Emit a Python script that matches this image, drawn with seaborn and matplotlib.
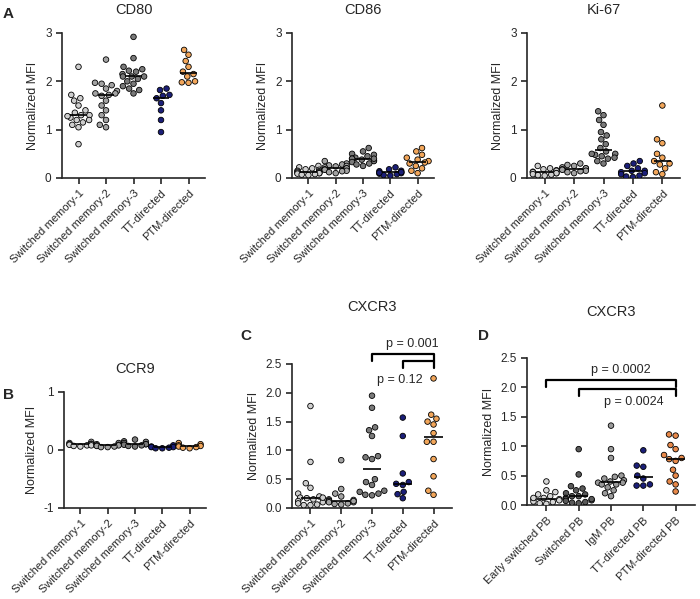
import matplotlib
matplotlib.use("Agg")
import matplotlib.pyplot as plt
import seaborn as sns
import numpy as np
import pandas as pd

sns.set_style("ticks")
plt.rcParams['font.family'] = ['Liberation Sans', 'DejaVu Sans']

cats_mem = ["Switched memory-1", "Switched memory-2", "Switched memory-3", "TT-directed", "PTM-directed"]
cats_pb = ["Early switched PB", "Switched PB", "IgM PB", "TT-directed PB", "PTM-directed PB"]
colors_mem = ["#cfcfcf", "#a3a3a3", "#7a7a7a", "#1b1f78", "#f2a65a"]
colors_pb = ["#d6d6d6", "#5a5a5a", "#9a9a9a", "#1b1f78", "#e8894a"]

cd80 = [
    [2.3,1.72,1.65,1.6,1.5,1.4,1.35,1.3,1.3,1.25,1.2,1.2,1.15,1.1,1.05,0.7,1.28],
    [2.45,1.97,1.95,1.92,1.85,1.8,1.75,1.72,1.7,1.6,1.5,1.4,1.3,1.2,1.1,1.05,1.75],
    [2.92,2.48,2.3,2.25,2.22,2.2,2.15,2.1,2.1,2.05,2.0,1.95,1.9,1.85,1.82,1.75,2.1],
    [1.85,1.82,1.72,1.7,1.65,1.55,1.4,1.2,0.95],
    [2.65,2.55,2.42,2.3,2.2,2.15,2.1,2.0,1.98,1.97],
]
cd86 = [
    [0.25,0.22,0.2,0.18,0.17,0.15,0.14,0.13,0.12,0.11,0.1,0.1,0.09,0.08,0.07,0.06],
    [0.35,0.3,0.28,0.26,0.25,0.24,0.22,0.2,0.2,0.18,0.17,0.15,0.14,0.12,0.1],
    [0.62,0.55,0.5,0.48,0.45,0.42,0.4,0.4,0.38,0.36,0.35,0.33,0.3,0.28,0.25,0.4],
    [0.22,0.18,0.15,0.14,0.12,0.1,0.09,0.08,0.06,0.05,0.12,0.11],
    [0.62,0.55,0.48,0.42,0.38,0.35,0.32,0.3,0.25,0.2,0.15,0.1],
]
ki67 = [
    [0.25,0.2,0.18,0.16,0.15,0.13,0.12,0.1,0.1,0.08,0.07,0.06,0.05],
    [0.3,0.27,0.25,0.22,0.2,0.2,0.18,0.17,0.15,0.14,0.12,0.1],
    [1.38,1.3,1.2,1.1,0.95,0.88,0.8,0.7,0.62,0.55,0.5,0.48,0.45,0.42,0.4,0.35,0.3,0.5],
    [0.35,0.3,0.25,0.2,0.15,0.12,0.1,0.08,0.05,0.03,0.02,0.15],
    [1.5,0.8,0.72,0.5,0.42,0.35,0.3,0.28,0.2,0.12,0.08],
]
ccr9 = [
    [0.14,0.12,0.11,0.1,0.1,0.09,0.08,0.08,0.07,0.06],
    [0.12,0.1,0.09,0.08,0.08,0.07,0.06,0.05,0.05],
    [0.18,0.15,0.14,0.12,0.1,0.1,0.09,0.08,0.07,0.06],
    [0.08,0.06,0.05,0.05,0.04,0.03,0.03],
    [0.12,0.1,0.08,0.07,0.06,0.05,0.04,0.03],
]
cxcr3_mem = [
    [1.77,0.8,0.43,0.35,0.25,0.2,0.18,0.17,0.15,0.12,0.1,0.08,0.06,0.05,0.05,0.18],
    [0.83,0.33,0.25,0.2,0.15,0.14,0.13,0.12,0.1,0.1,0.08,0.07,0.06,0.12],
    [1.95,1.74,1.4,1.35,1.25,0.9,0.88,0.85,0.5,0.45,0.4,0.3,0.28,0.25,0.23,0.22],
    [1.57,1.25,0.6,0.45,0.42,0.4,0.28,0.24,0.17],
    [2.25,1.62,1.55,1.5,1.45,1.3,1.15,1.15,0.85,0.55,0.3,0.23],
]
cxcr3_pb = [
    [0.4,0.25,0.22,0.18,0.15,0.12,0.1,0.1,0.08,0.06,0.05,0.03,0.02,0.12],
    [0.95,0.52,0.32,0.28,0.25,0.2,0.18,0.15,0.12,0.1,0.08,0.07,0.05,0.04,0.03,0.15,0.1],
    [1.35,0.95,0.8,0.5,0.48,0.45,0.42,0.4,0.38,0.35,0.35,0.3,0.25,0.2,0.15,0.38],
    [0.93,0.67,0.65,0.5,0.45,0.35,0.33,0.33],
    [1.2,1.18,1.02,0.95,0.85,0.8,0.78,0.75,0.6,0.5,0.4,0.35,0.23],
]

fig = plt.figure(figsize=(7, 5.99), dpi=100)
W, H = 700, 599
def ax_at(x0, y0, x1, y1):
    return fig.add_axes([x0/W, 1-y1/H, (x1-x0)/W, (y1-y0)/H])

def panel(ax, cats, data, colors, title, ylim, yticks, fmt):
    df = pd.DataFrame({"cat": np.repeat(cats, [len(d) for d in data]),
                       "val": np.concatenate(data)})
    sns.swarmplot(data=df, x="cat", y="val", hue="cat", palette=colors, order=cats,
                  size=4.0, edgecolor="black", linewidth=0.6, legend=False, ax=ax)
    for i, d in enumerate(data):
        m = np.median(d)
        ax.hlines(m, i-0.3, i+0.3, color="black", lw=1.2, zorder=5)
    ax.set_ylim(*ylim)
    ax.set_yticks(yticks)
    ax.set_yticklabels([fmt.format(t) for t in yticks], fontsize=8.5)
    ax.set_xlim(-0.6, 4.6)
    ax.set_xlabel("")
    ax.set_ylabel("Normalized MFI", fontsize=9)
    ax.set_title(title, fontsize=10.5, pad=14)
    ax.set_xticks(range(5))
    ax.set_xticklabels(cats, rotation=45, ha="right", rotation_mode="anchor", fontsize=8)
    for s in ["top", "right"]:
        ax.spines[s].set_visible(False)
    for s in ["left", "bottom"]:
        ax.spines[s].set_linewidth(1.2)
    ax.tick_params(width=1.2, length=4)

a1 = ax_at(62, 33, 205, 178)
a2 = ax_at(292, 33, 434, 178)
a3 = ax_at(527, 33, 680, 178)
b1 = ax_at(64, 392, 206, 508)
b2 = ax_at(292, 364, 452, 508)
b3 = ax_at(527, 358, 695, 505)

panel(a1, cats_mem, cd80, colors_mem, "CD80", (0, 3), [0,1,2,3], "{:g}")
panel(a2, cats_mem, cd86, colors_mem, "CD86", (0, 3), [0,1,2,3], "{:g}")
panel(a3, cats_mem, ki67, colors_mem, "Ki-67", (0, 3), [0,1,2,3], "{:g}")
panel(b1, cats_mem, ccr9, colors_mem, "CCR9", (-1, 1), [-1,0,1], "{:g}")
panel(b2, cats_mem, cxcr3_mem, colors_mem, "CXCR3", (0, 2.5), [0,0.5,1,1.5,2,2.5], "{:.1f}")
panel(b3, cats_pb, cxcr3_pb, colors_pb, "CXCR3", (0, 2.5), [0,0.5,1,1.5,2,2.5], "{:.1f}")
b2.set_title("CXCR3", fontsize=10.5, pad=38)
b3.set_title("CXCR3", fontsize=10.5, pad=30)

def bracket(ax, x0, x1, y, h, text, ty):
    ax.plot([x0, x0, x1, x1], [y-h, y, y, y-h], color="black", lw=1.6, clip_on=False)
    ax.text((x0+x1)/2 + 0.3, ty, text, ha="center", va="bottom", fontsize=9)

bracket(b2, 2, 4, 2.68, 0.12, "p = 0.001", 2.75)
bracket(b2, 3, 4, 2.55, 0.12, "", 2.6)
b2.text(2.9, 2.12, "p = 0.12", ha="center", va="bottom", fontsize=9)
bracket(b3, 0, 4, 2.13, 0.12, "p = 0.0002", 2.2)
bracket(b3, 1, 4, 1.97, 0.12, "", 2.0)
b3.text(2.7, 1.65, "p = 0.0024", ha="center", va="bottom", fontsize=9)

for txt, x, y in [("A", 3, 14), ("B", 3, 395), ("C", 240, 336), ("D", 478, 336)]:
    fig.text(x/W, 1-y/H, txt, fontsize=11, fontweight="bold", va="center")

fig.savefig("out.png", dpi=100)
